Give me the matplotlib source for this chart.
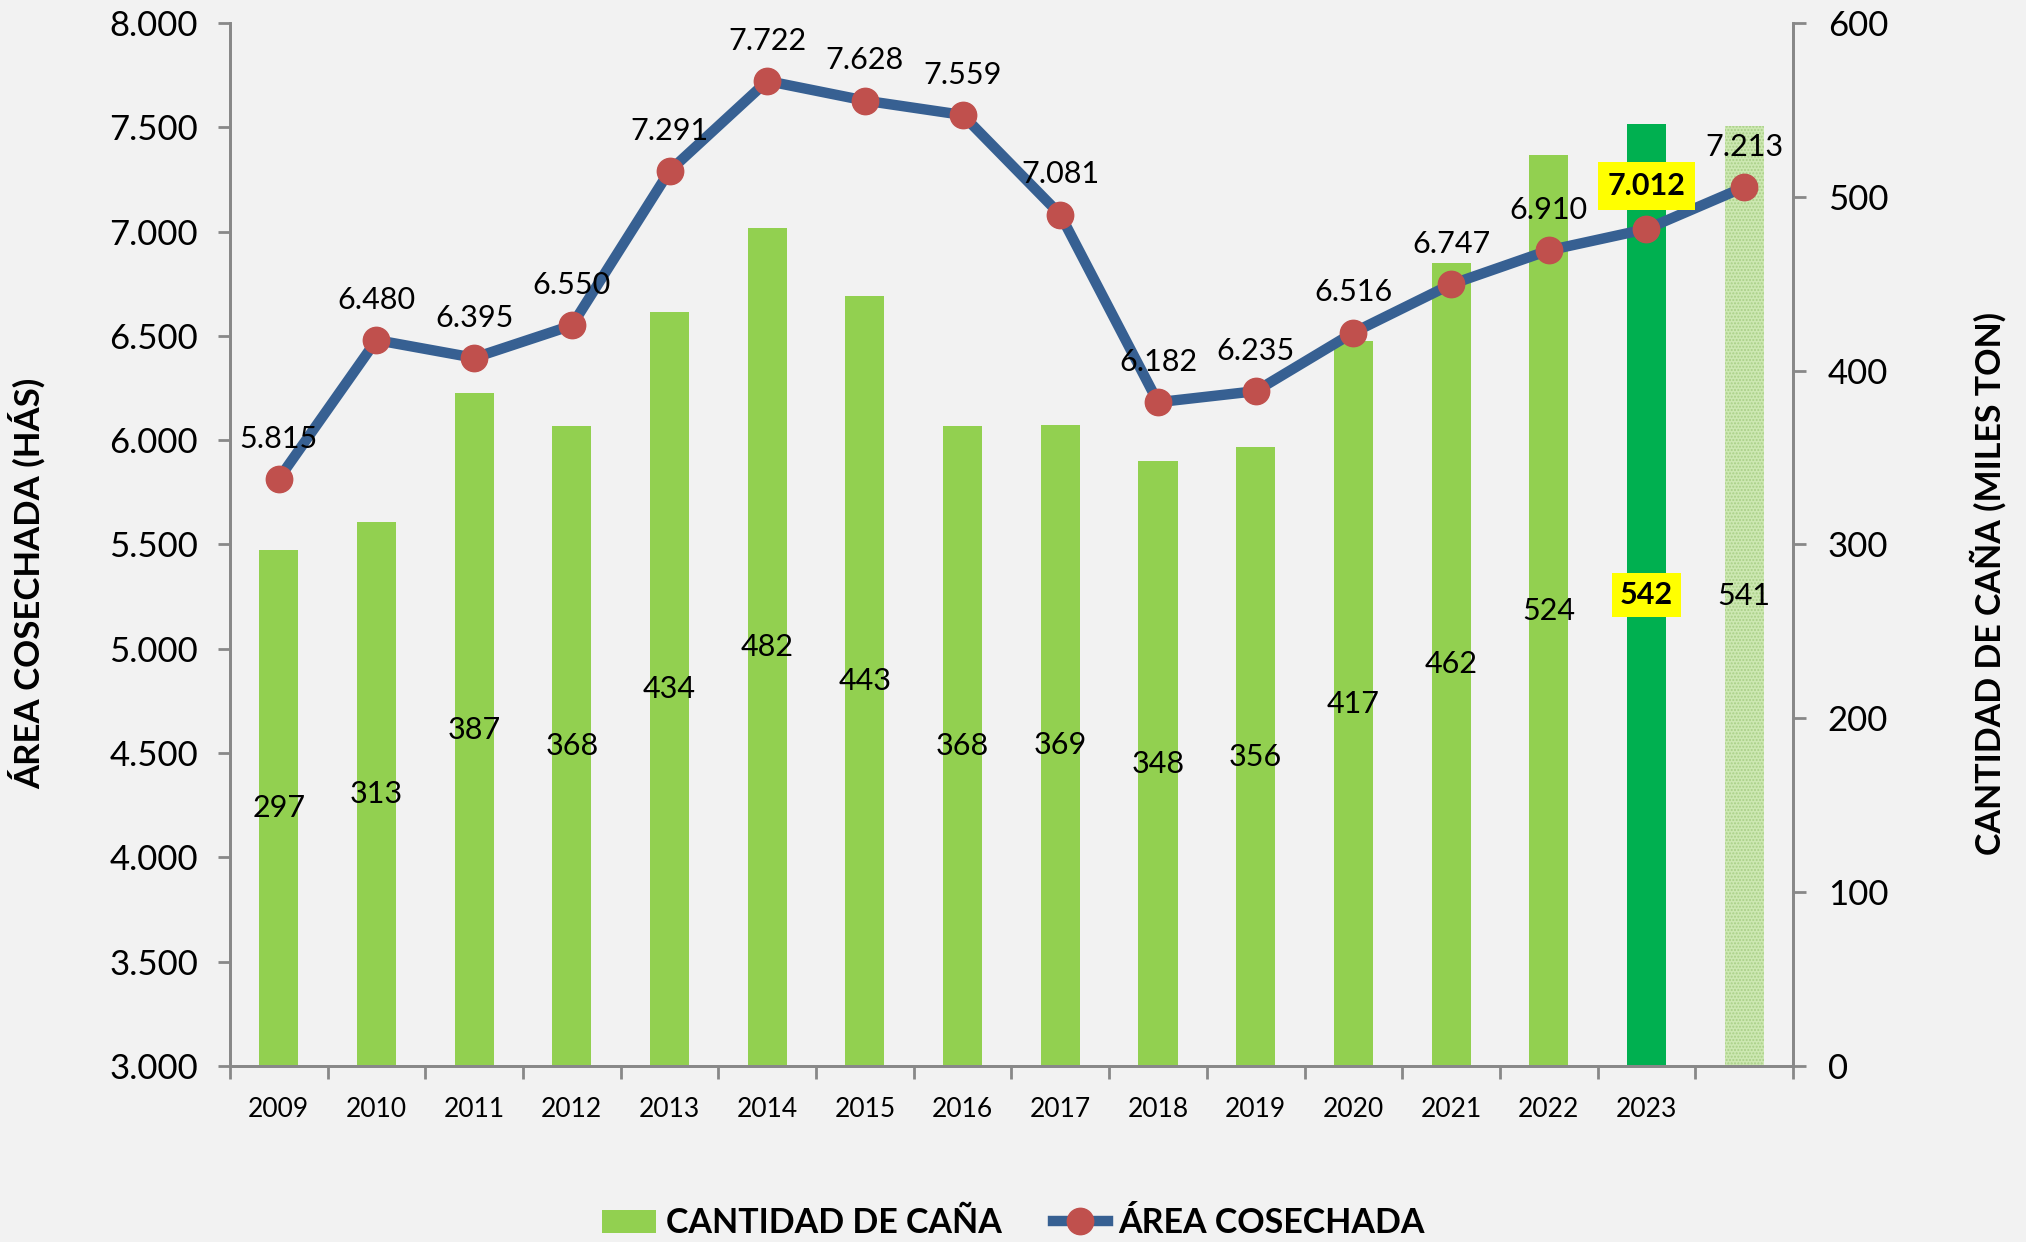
import matplotlib.pyplot as plt
from matplotlib.lines import Line2D
from matplotlib.patches import Patch

plt.rcParams['font.family'] = ['Lato', 'DejaVu Sans']
plt.rcParams['hatch.linewidth'] = 1.0

# Datos
anios = ['2009', '2010', '2011', '2012', '2013', '2014', '2015', '2016',
         '2017', '2018', '2019', '2020', '2021', '2022', '2023', '']
cana = [297, 313, 387, 368, 434, 482, 443, 368, 369, 348, 356, 417, 462, 524, 542, 541]
area = [5815, 6480, 6395, 6550, 7291, 7722, 7628, 7559, 7081, 6182, 6235, 6516,
        6747, 6910, 7012, 7213]

BG = '#f2f2f2'
VERDE = '#92d050'
VERDE_OSC = '#00b050'
AZUL = '#376092'
ROJO = '#c0504d'
GRIS = '#888888'


def fmt(v):
    return f"{v:,}".replace(',', '.')


fig = plt.figure(figsize=(20.26, 12.42), dpi=100, facecolor=BG)
ax = fig.add_axes([0.1135, 0.1417, 0.7715, 0.8398])
ax2 = ax.twinx()
ax2.set_zorder(1)
ax.set_zorder(2)
ax.patch.set_visible(False)
ax2.patch.set_facecolor(BG)

x = list(range(len(cana)))

# Barras (eje derecho)
colores = [VERDE] * len(cana)
colores[-2] = VERDE_OSC
bars = ax2.bar(x, cana, width=0.4, color=colores, zorder=2)
bars[-1].set_facecolor('#cde8b2')
bars[-1].set_edgecolor('#a8cf86')
bars[-1].set_linewidth(0)
bars[-1].set_hatch('.....')

for i, v in enumerate(cana):
    if i == len(cana) - 2:
        ax2.text(i, v / 2, str(v), ha='center', va='center', fontsize=22,
                 fontweight='bold', zorder=5,
                 bbox=dict(facecolor='#ffff00', edgecolor='none', pad=6))
    else:
        ax2.text(i, v / 2, str(v), ha='center', va='center', fontsize=22, zorder=5)

# Linea (eje izquierdo)
ax.plot(x, area, color=AZUL, lw=7.5, marker='o', ms=19,
        markerfacecolor=ROJO, markeredgecolor=ROJO, zorder=3)
for i, v in enumerate(area):
    if i == len(area) - 2:
        ax.annotate(fmt(v), (i, v), xytext=(0, 31), textcoords='offset points',
                    ha='center', va='center', fontsize=22, fontweight='bold',
                    bbox=dict(facecolor='#ffff00', edgecolor='none', pad=7))
    else:
        ax.annotate(fmt(v), (i, v), xytext=(0, 29), textcoords='offset points',
                    ha='center', va='center', fontsize=22)

# Ejes
ax.set_xlim(-0.5, len(cana) - 0.5)
ax.set_ylim(3000, 8000)
ax.set_yticks(range(3000, 8001, 500))
ax.set_yticklabels([fmt(v) for v in range(3000, 8001, 500)], fontsize=25)
ax2.set_ylim(0, 600)
ax2.set_yticks(range(0, 601, 100))
ax2.set_yticklabels([str(v) for v in range(0, 601, 100)], fontsize=25)

ax.set_xticks([i - 0.5 for i in range(len(cana) + 1)])
ax.set_xticklabels([])
ax.set_xticks(x, minor=True)
ax.set_xticklabels(anios, minor=True, fontsize=19)
ax.tick_params(axis='x', which='minor', length=0, pad=22)
ax.tick_params(axis='x', which='major', length=9, width=2, color=GRIS)
ax.tick_params(axis='y', length=9, width=2, color=GRIS, pad=14)
ax2.tick_params(axis='y', length=9, width=2, color=GRIS, pad=16)

for a in (ax, ax2):
    a.spines['top'].set_visible(False)
    for s in ('left', 'right', 'bottom'):
        a.spines[s].set_color(GRIS)
        a.spines[s].set_linewidth(2)

ax.set_ylabel('ÁREA COSECHADA (HÁS)', fontsize=25, fontweight='bold')
ax2.set_ylabel('CANTIDAD DE CAÑA (MILES TON)', fontsize=24.5, fontweight='bold')
ax2.yaxis.set_label_position('right')
ax.yaxis.set_label_coords(-0.118, 0.463)
ax2.yaxis.set_label_coords(1.113, 0.463)

# Leyenda
handles = [Patch(facecolor=VERDE, edgecolor='none'),
           Line2D([], [], color=AZUL, lw=7.5, marker='o', ms=19,
                  markerfacecolor=ROJO, markeredgecolor=ROJO)]
fig.legend(handles, ['CANTIDAD DE CAÑA', 'ÁREA COSECHADA'], loc='center',
           bbox_to_anchor=(0.5, 0.015), ncol=2, frameon=False,
           prop=dict(size=24.5, weight='bold'), columnspacing=1.5,
           handlelength=1.6, handletextpad=0.3)

fig.savefig('out.png', dpi=100, facecolor=BG)
